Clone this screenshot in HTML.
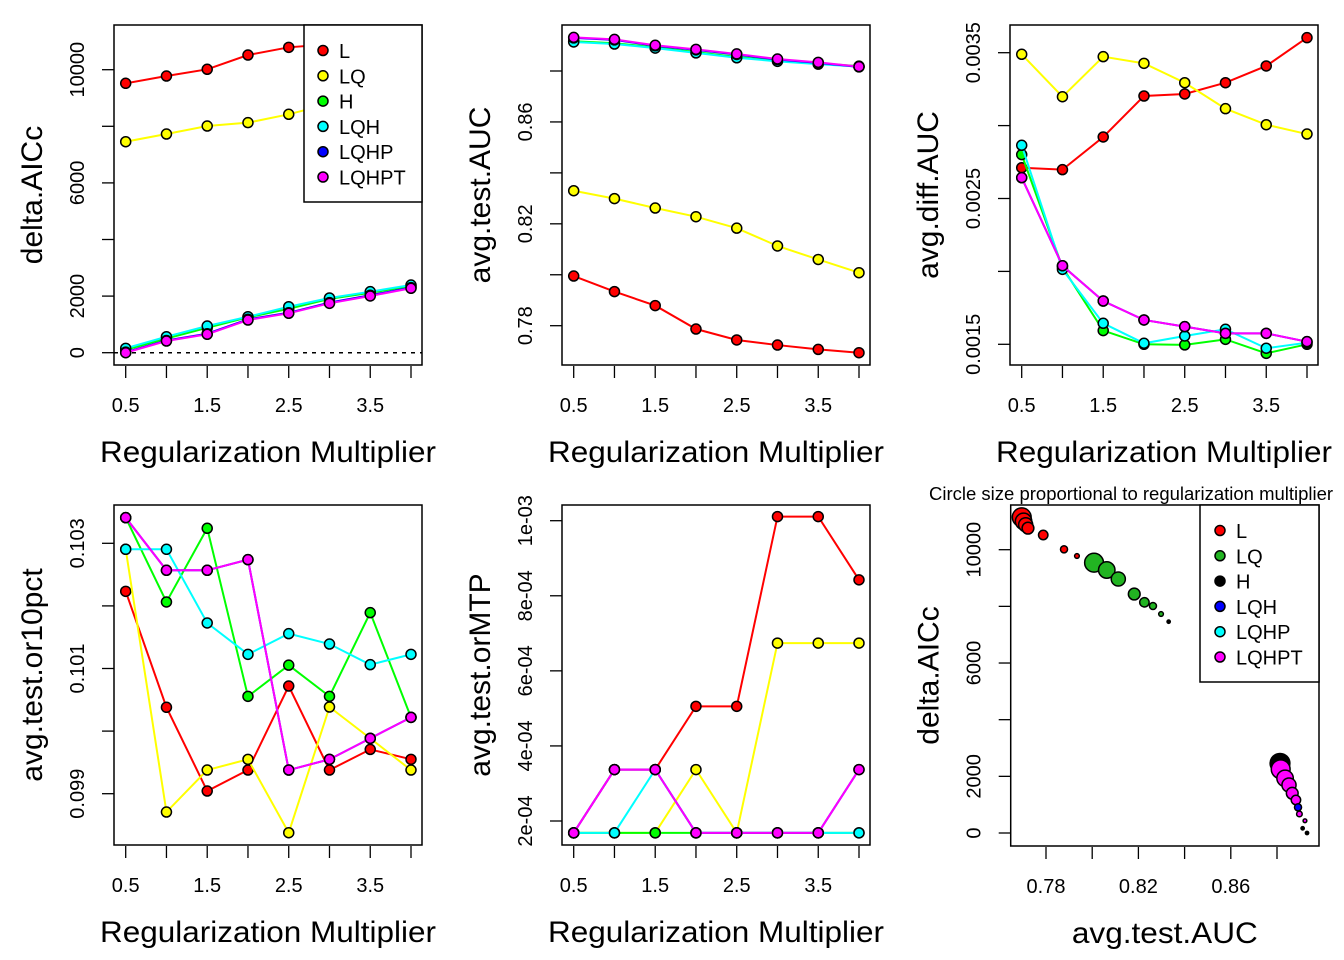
<!DOCTYPE html>
<html><head><meta charset="utf-8"><style>
html,body{margin:0;padding:0;background:#fff;}
svg{display:block;font-family:"Liberation Sans",Arial,sans-serif;}
</style></head><body>
<svg id="c" width="1344" height="960" viewBox="0 0 1344 960" xmlns="http://www.w3.org/2000/svg"></svg>
<script>
// ---------- data ----------
const rm = [0.5,1,1.5,2,2.5,3,3.5,4];
const seriesNames = ["L","LQ","H","LQH","LQHP","LQHPT"];
const seriesColors = ["#FF0000","#FFFF00","#00FF00","#00FFFF","#0000FF","#FF00FF"];

const aicL = [9519,9777,10014,10519,10791,10900,11000,11100];
const aicLQ = [7456,7727,8010,8128,8424,8800,9150,9490];
const aicH = [100,500,880,1250,1550,1900,2120,2350];
const aicLQH = [155,565,943,1272,1625,1933,2156,2392];
const aicLQHP = [20,430,670,1180,1410,1770,2030,2300];
const aicLQHPT = [0,413,650,1155,1392,1745,2004,2276];

const aucL = [0.7995,0.7934,0.7879,0.7787,0.7744,0.7724,0.7707,0.7694];
const aucLQ = [0.8330,0.8299,0.8262,0.8228,0.8183,0.8113,0.8060,0.8008];
const aucH = [0.8917,0.8909,0.8893,0.8874,0.8855,0.8841,0.8830,0.8819];
const aucLQH = [0.8914,0.8906,0.8890,0.8871,0.8852,0.8838,0.8827,0.8817];
const aucLQHP = [0.8930,0.8922,0.8899,0.8883,0.8865,0.8845,0.8832,0.8816];
const aucLQHPT = [0.8932,0.8924,0.8901,0.8885,0.8867,0.8847,0.8834,0.8817];

const diffL = [0.002711,0.002698,0.002922,0.003203,0.003217,0.003294,0.003409,0.003603];
const diffLQ = [0.003489,0.003198,0.003473,0.003427,0.003294,0.003116,0.003006,0.002942];
const diffH = [0.002801,0.002028,0.001594,0.001500,0.001496,0.001534,0.001438,0.001500];
const diffLQH = [0.002865,0.002014,0.001644,0.001507,0.001557,0.001603,0.001473,0.001511];
const diffLQHP = [0.002643,0.002039,0.001797,0.001667,0.001621,0.001575,0.001575,0.001518];
const diffLQHPT = [0.002643,0.002039,0.001797,0.001667,0.001621,0.001575,0.001575,0.001518];

const orL = [0.102233,0.100380,0.099043,0.099378,0.100720,0.099378,0.099708,0.099549];
const orLQ = [0.102904,0.098707,0.099378,0.099549,0.098377,0.100385,0.099884,0.099378];
const orH = [0.103410,0.102063,0.103240,0.100555,0.101053,0.100555,0.101892,0.100220];
const orLQH = [0.102904,0.102904,0.101727,0.101226,0.101557,0.101391,0.101061,0.101226];
const orLQHP = [0.103410,0.102569,0.102569,0.102739,0.099378,0.099549,0.099884,0.100220];
const orLQHPT = [0.103410,0.102569,0.102569,0.102739,0.099378,0.099549,0.099884,0.100220];

const mtpL = [1.685e-4,3.37e-4,3.37e-4,5.055e-4,5.055e-4,1.011e-3,1.011e-3,8.425e-4];
const mtpLQ = [1.685e-4,1.685e-4,1.685e-4,3.37e-4,1.685e-4,6.74e-4,6.74e-4,6.74e-4];
const mtpH = [1.685e-4,1.685e-4,1.685e-4,1.685e-4,1.685e-4,1.685e-4,1.685e-4,1.685e-4];
const mtpLQH = [1.685e-4,1.685e-4,3.37e-4,1.685e-4,1.685e-4,1.685e-4,1.685e-4,1.685e-4];
const mtpLQHP = [1.685e-4,3.37e-4,3.37e-4,1.685e-4,1.685e-4,1.685e-4,1.685e-4,3.37e-4];
const mtpLQHPT = [1.685e-4,3.37e-4,3.37e-4,1.685e-4,1.685e-4,1.685e-4,1.685e-4,3.37e-4];

// scatter (panel 6)
const scColorsLegend = ["#FF0000","#22B422","#000000","#0000FF","#00FFFF","#FF00FF"];
const scAuc = [0.7695,0.7703,0.7712,0.7722,0.7788,0.7878,0.7934,
  0.8008,0.8063,0.8113,0.8182,0.8226,0.8263,0.8298,0.8331,
  0.8813,0.8816,0.8835,0.8852,0.8866,0.8882,0.8891,0.8897,0.8921,0.8911,0.8930];
const scAic = [11144,11000,10880,10760,10519,10014,9777,
  9541,9284,8966,8436,8143,8013,7730,7459,
  2460,2249,1931,1694,1401,1165,907,671,434,166,0];
const scRm = [4,3.5,3,2.5,2,1.5,1,
  4,3.5,3,2.5,2,1.5,1,0.7,
  4.2,4,3.5,3,2.5,2,1.5,1.2,0.8,0.7,0.7];
const scGroup = [0,0,0,0,0,0,0, 1,1,1,1,1,1,1,2, 2,5,5,5,5,5,3,5,5,2,2];
const yTick1 = ["0","2000","6000","10000"];
const xTickLab = ["0.5","1.5","2.5","3.5"];

// ---------- drawing ----------
const NS = "http://www.w3.org/2000/svg";
const svg = document.getElementById("c");
function mk(tag, attrs, parent){
  const e = document.createElementNS(NS, tag);
  for (const k in attrs) e.setAttribute(k, attrs[k]);
  (parent||svg).appendChild(e);
  return e;
}
function lin(v0,p0,v1,p1){ return v => p0 + (v - v0) * (p1 - p0) / (v1 - v0); }

function panel(cfg){
  const g = mk("g", {});
  
  
  const {L,T,R,B} = cfg.box;
  const sx = cfg.sx, sy = cfg.sy;
  cfg.yTicks.forEach(v => {
    const t = mk("line", {x1:L-12, x2:L, y1:sy(v), y2:sy(v), stroke:"#000","stroke-width":1.3}, g);
    
    
  });
  cfg.yLabVals.forEach((v,i) => {
    const t = mk("text", {x:0, y:0, transform:`translate(${L-30},${sy(v)}) rotate(-90)`, "text-anchor":"middle", "font-size":20}, g);
    t.textContent = cfg.yLabs[i];
    
    
  });
  cfg.xTicks.forEach(v => {
    const t = mk("line", {x1:sx(v), x2:sx(v), y1:B+1, y2:B+13, stroke:"#000","stroke-width":1.3}, g);
    
    
  });
  cfg.xLabVals.forEach((v,i) => {
    const t = mk("text", {x:sx(v), y:B+47, "text-anchor":"middle", "font-size":20}, g);
    t.textContent = cfg.xLabs[i];
    
    
  });
  const xt = mk("text", {x:(L+R)/2, y:B+97, "text-anchor":"middle", "font-size":30, textLength:cfg.xTitleLen, lengthAdjust:"spacingAndGlyphs"}, g);
  xt.textContent = cfg.xTitle;
  
  
  const yt = mk("text", {x:0, y:0, transform:`translate(${L-72},${(T+B)/2}) rotate(-90)`, "text-anchor":"middle", "font-size":30}, g);
  yt.textContent = cfg.yTitle;
  
  
  return g;
}

function lineSeries(g, sx, sy, xs, ys, color, name){
  const pl = mk("polyline", {points: xs.map((x,i)=>sx(x)+","+sy(ys[i])).join(" "), fill:"none", stroke:color, "stroke-width":2}, g);
  
  
  xs.forEach((x,i)=>{
    const c = mk("circle", {cx:sx(x), cy:sy(ys[i]), r:5, fill:color, stroke:"#000", "stroke-width":1.5}, g);
    
    
  });
}
function box(g, b){
  const r = mk("rect", {x:b.L, y:b.T, width:b.R-b.L, height:b.B-b.T, fill:"none", stroke:"#000", "stroke-width":1.5}, g);
  
  
}
function legend(g, x, y, w, h, colors, sym){
  const lg = mk("g", {}, g);
  
  
  mk("rect", {x:x, y:y, width:w, height:h, fill:"#fff", stroke:"#000", "stroke-width":1.5}, lg);
  seriesNames.forEach((n,i)=>{
    const cy = y + 25.5 + i*25.3;
    const c = mk("circle", {cx:x+sym, cy:cy, r:5, fill:colors[i], stroke:"#000", "stroke-width":1.5}, lg);
    
    
    const t = mk("text", {x:x+sym+16, y:cy+7.5, "font-size":20}, lg);
    t.textContent = n;
    
    
  });
}

const xTicks = rm;
const xLabVals = [0.5,1.5,2.5,3.5];
function range(a,b,s){ const r=[]; for(let v=a; v<=b+s*1e-6; v+=s) r.push(+v.toFixed(8)); return r; }
const XT = "Regularization Multiplier";

function linePanel(name, ox, oy, yv0, yp0, yv1, yp1, yTicks, yLabVals, yLabs, yTitle, data){
  const b = {L:114+ox, T:25+oy, R:422+ox, B:365+oy};
  const sx = lin(0.5, 125.7+ox, 4, 411+ox);
  const sy = lin(yv0, yp0+oy, yv1, yp1+oy);
  const g = panel({name, box:b, sx, sy, yTicks, yLabVals, yLabs, xTicks, xLabVals, xLabs:xTickLab, xTitle:XT, xTitleLen:336, yTitle});
  return {g, b, sx, sy, draw: () => { data.forEach((d,i)=>lineSeries(g, sx, sy, rm, d, seriesColors[i], seriesNames[i].toLowerCase())); box(g,b); }};
}

const p1 = linePanel("panel-delta-aicc", 0, 0, 0, 352.7, 10000, 69.7, range(0,10000,2000), [0,2000,6000,10000], yTick1, "delta.AICc",
  [aicL,aicLQ,aicH,aicLQH,aicLQHP,aicLQHPT]);
const dl = mk("line", {x1:114, x2:422, y1:p1.sy(0), y2:p1.sy(0), stroke:"#000", "stroke-width":1.5, "stroke-dasharray":"4,5"}, p1.g);


p1.draw();
legend(p1.g, 304, 25, 118, 177, seriesColors, 19);

const p2 = linePanel("panel-avg-test-auc", 448, 0, 0.78, 325.7, 0.88, 71, range(0.78,0.88,0.02), [0.78,0.82,0.86], ["0.78","0.82","0.86"], "avg.test.AUC",
  [aucL,aucLQ,aucH,aucLQH,aucLQHP,aucLQHPT]);
p2.draw();

const p3 = linePanel("panel-avg-diff-auc", 896, 0, 0.0015, 344.3, 0.0035, 52.7, range(0.0015,0.0035,0.0005), [0.0015,0.0025,0.0035], ["0.0015","0.0025","0.0035"], "avg.diff.AUC",
  [diffL,diffLQ,diffH,diffLQH,diffLQHP,diffLQHPT]);
p3.draw();

const p4 = linePanel("panel-avg-test-or10pct", 0, 480, 0.099, 313.7, 0.103, 63.3, range(0.099,0.103,0.001), [0.099,0.101,0.103], ["0.099","0.101","0.103"], "avg.test.or10pct",
  [orL,orLQ,orH,orLQH,orLQHP,orLQHPT]);
p4.draw();

const p5 = linePanel("panel-avg-test-ormtp", 448, 480, 2e-4, 341, 1e-3, 40.7, range(2e-4,1e-3,2e-4), [2e-4,4e-4,6e-4,8e-4,1e-3], ["2e-04","4e-04","6e-04","8e-04","1e-03"], "avg.test.orMTP",
  [mtpL,mtpLQ,mtpH,mtpLQH,mtpLQHP,mtpLQHPT]);
p5.draw();

(function(){
  const b = {L:1010.7, T:505, R:1319, B:846};
  const sx = lin(0.78, 1046, 0.88, 1277);
  const sy = lin(0, 833, 10000, 549.7);
  const g = panel({name:"panel-scatter-aicc-vs-auc", box:b, sx, sy, yTicks:range(0,10000,2000), yLabVals:[0,2000,6000,10000], yLabs:yTick1,
    xTicks:range(0.78,0.88,0.02), xLabVals:[0.78,0.82,0.86], xLabs:["0.78","0.82","0.86"], xTitle:"avg.test.AUC", xTitleLen:186, yTitle:"delta.AICc"});
  const cp = mk("clipPath", {id:"clip6"}, g);
  mk("rect", {x:b.L, y:b.T, width:b.R-b.L, height:b.B-b.T}, cp);
  const pts = mk("g", {"clip-path":"url(#clip6)"}, g);
  scAuc.forEach((a,i)=>{
    const c = mk("circle", {cx:sx(a), cy:sy(scAic[i]), r:2.35*scRm[i], fill:scColorsLegend[scGroup[i]], stroke:"#000", "stroke-width":1.5}, pts);
    
    
  });
  box(g, b);
  legend(g, 1200, 505, 119, 177, scColorsLegend, 20);
  const t = mk("text", {x:929, y:500, "font-size":18.5}, g);
  t.textContent = "Circle size proportional to regularization multiplier";
  
  
})();
</script>
</body></html>
